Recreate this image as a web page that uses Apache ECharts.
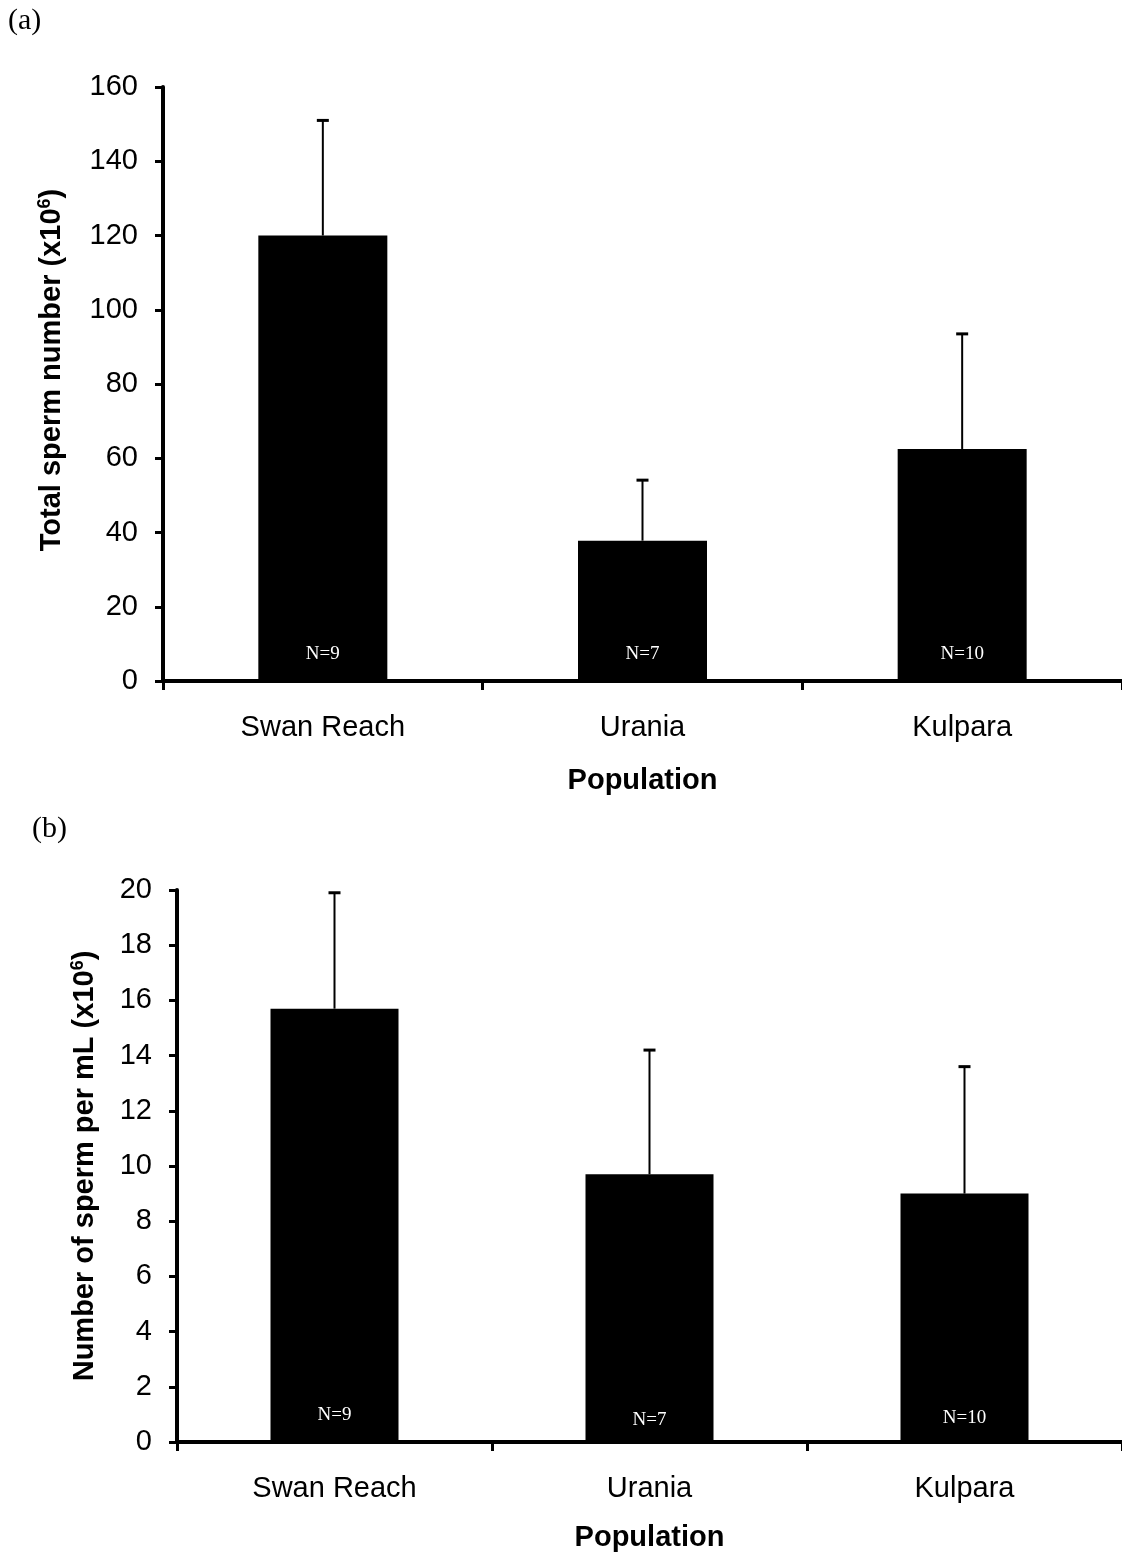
<!DOCTYPE html>
<html>
<head>
<meta charset="utf-8">
<title>Sperm number by population</title>
<script src="https://cdn.jsdelivr.net/npm/echarts@6/dist/echarts.min.js"></script>
<style>
  html, body { margin: 0; padding: 0; background: #fff; }
  #chart { width: 1122px; height: 1553px; }
</style>
</head>
<body>
<div id="chart"></div>
<script>
// Populations sampled and number of males per population
const populations = ['Swan Reach', 'Urania', 'Kulpara'];
const sampleSizes = [9, 7, 10];

// (a) total sperm number (x10^6): mean and standard error
const totalMean = [120.0, 37.8, 62.5];
const totalErr = [31.0, 16.3, 31.0];

// (b) sperm concentration (x10^6 per mL): mean and standard error
const concMean = [15.7, 9.7, 9.0];
const concErr = [4.2, 4.5, 4.6];

// Axis scales
const totalAxis = { min: 0, max: 160, interval: 20 };
const concAxis = { min: 0, max: 20, interval: 2 };

const SANS = '"Liberation Sans", Arial, Helvetica, sans-serif';
const SERIF = '"Liberation Serif", "Times New Roman", serif';

const chart = echarts.init(document.getElementById('chart'), null, { renderer: 'canvas' });

// Upper-only error bar with a short cap
function errorBar(params, api) {
  const idx = api.value(0);
  const mean = api.value(1);
  const err = api.value(2);
  const base = api.coord([idx, mean]);
  const top = api.coord([idx, mean + err]);
  const cap = 6;
  return {
    type: 'group',
    children: [
      { type: 'line', shape: { x1: base[0], y1: base[1], x2: top[0], y2: top[1] },
        style: { stroke: '#000', lineWidth: 2 } },
      { type: 'line', shape: { x1: top[0] - cap, y1: top[1], x2: top[0] + cap, y2: top[1] },
        style: { stroke: '#000', lineWidth: 3 } }
    ]
  };
}

function xAxisFor(gridIndex, nameGap) {
  return {
    type: 'category',
    gridIndex: gridIndex,
    data: populations,
    axisLine: { show: true, lineStyle: { color: '#000', width: 4 } },
    axisTick: { show: true, length: 9, lineStyle: { color: '#000', width: 3 } },
    axisLabel: { color: '#000', fontFamily: SANS, fontSize: 29, margin: 32 },
    name: 'Population',
    nameLocation: 'middle',
    nameGap: nameGap,
    nameTextStyle: { color: '#000', fontFamily: SANS, fontSize: 29, fontWeight: 'bold' }
  };
}

// Axis title with a raised exponent: "{t|... (x10}{s|6}{t|)}"
function yAxisFor(gridIndex, scale, title, nameGap, namePadding) {
  return {
    type: 'value',
    gridIndex: gridIndex,
    min: scale.min,
    max: scale.max,
    interval: scale.interval,
    axisLine: { show: true, lineStyle: { color: '#000', width: 4 } },
    axisTick: { show: true, length: 8, lineStyle: { color: '#000', width: 3 } },
    splitLine: { show: false },
    axisLabel: { color: '#000', fontFamily: SANS, fontSize: 29, margin: 25 },
    name: '{t|' + title + ' (x10}{s|6}{t|)}',
    nameLocation: 'middle',
    nameGap: nameGap,
    nameTextStyle: {
      color: '#000', fontFamily: SANS, fontSize: 29, fontWeight: 'bold', padding: namePadding,
      rich: {
        t: { color: '#000', fontFamily: SANS, fontSize: 29, fontWeight: 'bold', lineHeight: 34, verticalAlign: 'bottom' },
        s: { color: '#000', fontFamily: SANS, fontSize: 18, fontWeight: 'bold', lineHeight: 34, verticalAlign: 'top', padding: [4, 0, 0, 0] }
      }
    }
  };
}

// Bars with the sample size written near the base; distances lift each label off the axis
function barSeries(axisIndex, values, barWidth, labelDistances) {
  return {
    type: 'bar',
    xAxisIndex: axisIndex,
    yAxisIndex: axisIndex,
    data: values.map((v, i) => ({ value: v, label: { distance: labelDistances[i] } })),
    barWidth: barWidth,
    itemStyle: { color: '#000' },
    label: {
      show: true,
      position: 'insideBottom',
      color: '#fff',
      fontFamily: SERIF,
      fontSize: 19,
      formatter: p => 'N=' + sampleSizes[p.dataIndex]
    },
    z: 2
  };
}

function errorSeries(axisIndex, means, errs) {
  return {
    type: 'custom',
    xAxisIndex: axisIndex,
    yAxisIndex: axisIndex,
    renderItem: errorBar,
    data: means.map((m, i) => [i, m, errs[i]]),
    z: 3
  };
}

const option = {
  backgroundColor: '#fff',
  animation: false,
  grid: [
    { left: 163, top: 87, width: 962, height: 594 },
    { left: 177, top: 890, width: 954, height: 552 }
  ],
  xAxis: [xAxisFor(0, 85), xAxisFor(1, 81)],
  yAxis: [
    yAxisFor(0, totalAxis, 'Total sperm number', 97, [0, 0, 0, 28]),
    yAxisFor(1, concAxis, 'Number of sperm per mL', 78, [0, 0, 0, 0])
  ],
  series: [
    barSeries(0, totalMean, 129, [17, 17, 17]),
    errorSeries(0, totalMean, totalErr),
    barSeries(1, concMean, 128, [17, 12, 14]),
    errorSeries(1, concMean, concErr)
  ],
  graphic: [
    { type: 'text', left: 8, top: 6,
      style: { text: '(a)', font: '30px ' + SERIF, fill: '#000' } },
    { type: 'text', left: 32, top: 814,
      style: { text: '(b)', font: '30px ' + SERIF, fill: '#000' } }
  ]
};

chart.setOption(option);
</script>
</body>
</html>
